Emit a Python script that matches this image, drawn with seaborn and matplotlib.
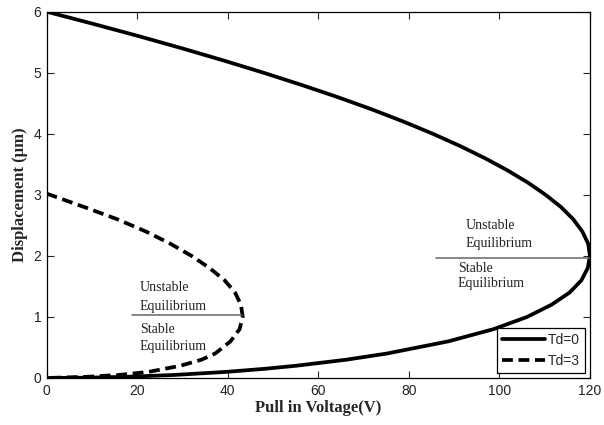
import matplotlib
matplotlib.use("Agg")
import matplotlib.pyplot as plt
import seaborn as sns
import pandas as pd

# ---- data ----
td0_voltage = [0, 10.3, 20.3, 29.9, 39.1, 47.9, 56.3, 64.3, 71.8, 78.8, 85.3, 91.3,
               96.8, 101.8, 106.3, 110.2, 113.6, 116.3, 118.3, 119.6, 120.0,
               119.5, 118.1, 115.5, 111.5, 106.1, 98.7, 88.7, 75.1, 66.2, 55.0,
               48.1, 39.6, 28.2, 17.9, 9.0, 0]
td0_disp = [6.0, 5.8, 5.6, 5.4, 5.2, 5.0, 4.8, 4.6, 4.4, 4.2, 4.0, 3.8,
            3.6, 3.4, 3.2, 3.0, 2.8, 2.6, 2.4, 2.2, 2.0,
            1.8, 1.6, 1.4, 1.2, 1.0, 0.8, 0.6, 0.4, 0.3, 0.2,
            0.15, 0.1, 0.05, 0.02, 0.005, 0.0]

td3_voltage = [0, 8.3, 15.6, 21.9, 27.3, 32.0, 36.0, 39.3, 41.6, 42.9, 43.3, 42.6,
               40.6, 37.2, 34.2, 29.5, 22.5, 16.0, 9.0, 0]
td3_disp = [3.02, 2.8, 2.6, 2.4, 2.2, 2.0, 1.8, 1.6, 1.4, 1.2, 1.0, 0.8,
            0.6, 0.4, 0.3, 0.2, 0.1, 0.05, 0.02, 0.0]

series_labels = ["Td=0", "Td=3"]
x_ticks = [0, 20, 40, 60, 80, 100, 120]
y_ticks = [0, 1, 2, 3, 4, 5, 6]

# ---- styling ----
sns.set_style("ticks")
plt.rcParams["font.family"] = ["Liberation Sans", "DejaVu Sans"]

fig = plt.figure(figsize=(6.04, 4.25), dpi=100)
ax = fig.add_axes([0.0773, 0.1106, 0.8995, 0.8619])

df0 = pd.DataFrame({"V": td0_voltage, "D": td0_disp})
df3 = pd.DataFrame({"V": td3_voltage, "D": td3_disp})

sns.lineplot(data=df0, x="V", y="D", sort=False, estimator=None, ax=ax,
             color="black", linewidth=2.7, label=series_labels[0])
sns.lineplot(data=df3, x="V", y="D", sort=False, estimator=None, ax=ax,
             color="black", linewidth=2.7, label=series_labels[1])
ax.lines[1].set_dashes((2.9, 1.5))
for ln in ax.lines:
    ln.set_solid_joinstyle("round")
    ln.set_dash_joinstyle("round")

ax.set_xlim(0, 120)
ax.set_ylim(0, 6)
ax.set_xticks(x_ticks)
ax.set_yticks(y_ticks)
ax.tick_params(direction="in", top=True, right=True, length=5, width=0.8,
               labelsize=10, labelcolor="#222222", pad=4)
for s in ax.spines.values():
    s.set_linewidth(0.9)
    s.set_color("black")

serif = ["Liberation Serif", "DejaVu Serif"]
ax.set_xlabel("Pull in Voltage(V)", family=serif,
              fontweight="bold", fontsize=12, labelpad=2)
ax.set_ylabel("Displacement (\u03bcm)", family=serif,
              fontweight="bold", fontsize=12, labelpad=4)

# annotations
ax.plot([18.8, 43.1], [1.03, 1.03], color="#666666", linewidth=1.1)
ax.text(20.6, 1.49, "Unstable", family=serif, fontsize=10, va="center", color="#222")
ax.text(20.6, 1.17, "Equilibrium", family=serif, fontsize=10, va="center", color="#222")
ax.text(20.6, 0.80, "Stable", family=serif, fontsize=10, va="center", color="#222")
ax.text(20.6, 0.52, "Equilibrium", family=serif, fontsize=10, va="center", color="#222")

ax.plot([86.0, 120.0], [1.97, 1.97], color="#666666", linewidth=1.1)
ax.text(92.6, 2.5, "Unstable", family=serif, fontsize=10, va="center", color="#222")
ax.text(92.6, 2.2, "Equilibrium", family=serif, fontsize=10, va="center", color="#222")
ax.text(90.8, 1.79, "Stable", family=serif, fontsize=10, va="center", color="#222")
ax.text(90.8, 1.54, "Equilibrium", family=serif, fontsize=10, va="center", color="#222")

leg = ax.legend(loc="lower right", fontsize=10, handlelength=3.1, handletextpad=0.15,
                borderaxespad=0.35, labelspacing=0.45, fancybox=False, framealpha=1,
                edgecolor="black", borderpad=0.4)
leg.get_frame().set_linewidth(0.9)

fig.savefig("out.png", dpi=100)
